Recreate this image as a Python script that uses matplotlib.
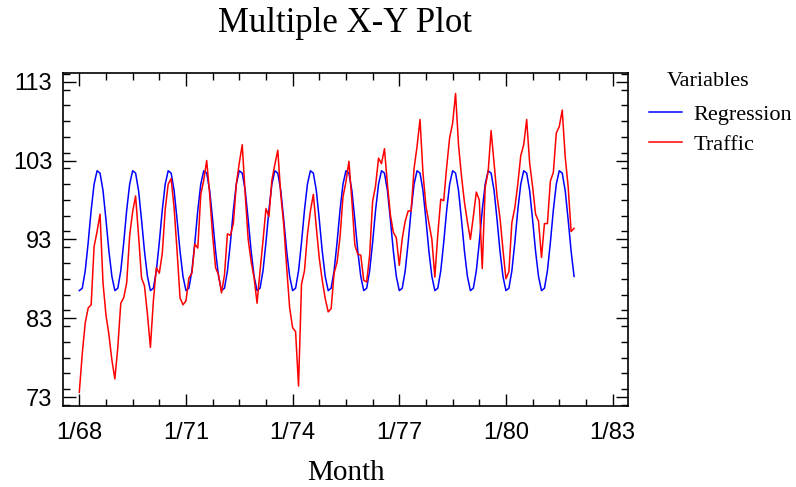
import numpy as np
import matplotlib
matplotlib.use("Agg")
import matplotlib.pyplot as plt
from matplotlib.ticker import FixedLocator, MultipleLocator

# monthly data, 1/68 .. 12/81
regression_month = [86.5, 86.8, 89.0, 92.6, 96.7, 100.0, 101.7, 101.4, 99.2, 95.5, 91.5, 88.3]
traffic = [
    73.6, 78.5, 82.4, 84.3, 84.7, 92.1, 94.0, 96.2, 87.5, 83.4, 80.9, 77.7,
    75.3, 79.3, 84.9, 85.6, 87.5, 93.5, 96.5, 98.5, 93.5, 88.1, 87.1, 83.5,
    79.3, 85.2, 89.4, 88.7, 91.2, 96.8, 100.0, 100.7, 97.0, 91.5, 85.6, 84.7,
    85.2, 88.1, 88.7, 92.4, 91.9, 98.7, 100.5, 103.0, 98.7, 93.5, 89.4, 88.5,
    86.2, 88.5, 93.7, 93.5, 95.0, 100.0, 102.7, 105.0, 98.7, 93.0, 90.2, 88.1,
    84.9, 89.0, 92.8, 96.9, 95.9, 100.5, 102.5, 104.3, 98.7, 94.9, 89.4, 84.3,
    81.8, 81.3, 74.4, 87.3, 89.0, 93.6, 96.6, 98.7, 94.5, 90.6, 87.8, 85.5,
    83.8, 84.2, 88.7, 90.1, 93.3, 98.4, 100.3, 102.9, 97.9, 92.3, 91.1, 91.0,
    87.8, 87.6, 91.0, 97.8, 99.8, 103.3, 102.6, 104.5, 100.0, 96.1, 93.9, 93.2,
    89.7, 93.1, 95.3, 96.6, 96.6, 102.0, 104.8, 108.2, 101.4, 97.2, 95.1, 93.0,
    88.2, 93.6, 98.1, 97.9, 102.2, 105.9, 107.7, 111.5, 105.0, 101.0, 97.7, 95.2,
    93.0, 95.9, 99.0, 98.0, 89.3, 99.6, 101.6, 106.8, 102.7, 98.5, 95.7, 91.7,
    88.0, 88.9, 95.1, 97.0, 100.0, 103.6, 105.0, 108.2, 102.7, 99.7, 96.2, 95.3,
    90.7, 95.0, 95.0, 100.4, 101.5, 106.5, 107.3, 109.4, 103.5, 99.7, 94.0, 94.4,
]
regression = np.tile(regression_month, len(traffic) // 12)
months = np.arange(len(traffic))

xtick_labels = ["1/68", "1/71", "1/74", "1/77", "1/80", "1/83"]
ytick_vals = [73, 83, 93, 103, 113]

serif = ["Liberation Serif", "DejaVu Serif"]
sans = ["Liberation Sans", "DejaVu Sans"]

fig = plt.figure(figsize=(7.96, 4.87), dpi=100)
ax = fig.add_axes([63.3 / 796, 1 - 405.7 / 487, (627.7 - 63.3) / 796, (405.7 - 73) / 487])

ax.plot(months, regression, color="#0000ff", lw=1.1, label="Regression")
ax.plot(months, traffic, color="#ff0000", lw=1.1, label="Traffic")

ax.set_xlim(-5.4, 185.1)
ax.set_ylim(71.9, 114.1)
ax.xaxis.set_major_locator(FixedLocator(np.arange(0, 181, 36)))
ax.xaxis.set_minor_locator(MultipleLocator(9))
ax.set_xticklabels(xtick_labels)
ax.yaxis.set_major_locator(FixedLocator(ytick_vals))
ax.yaxis.set_minor_locator(MultipleLocator(2))

ax.tick_params(which="both", direction="in", top=True, right=True, width=1.0)
ax.tick_params(which="major", length=9)
ax.tick_params(which="minor", length=5)
ax.tick_params(axis="x", which="major", pad=12)
ax.tick_params(axis="y", which="major", pad=8)
for lab in ax.get_xticklabels() + ax.get_yticklabels():
    lab.set_family(sans)
    lab.set_fontsize(17)
for sp in ax.spines.values():
    sp.set_linewidth(1.2)

ax.set_xlabel("Month", family=serif, fontsize=21, labelpad=11)
fig.text(345.5 / 796, 1 - 23 / 487, "Multiple X-Y Plot", family=serif, fontsize=25,
         ha="center", va="center")

fig.text(667 / 796, 1 - 82 / 487, "Variables", family=serif, fontsize=16,
         ha="left", va="center")
fig.legend(handles=ax.get_lines(), loc="upper left",
           bbox_to_anchor=(649 / 796, 1 - 104.5 / 487), bbox_transform=fig.transFigure,
           frameon=False, prop={"family": serif, "size": 16},
           handlelength=1.5, handletextpad=0.5, borderpad=0, borderaxespad=0,
           labelspacing=0.42)

fig.savefig("out.png", dpi=100)
